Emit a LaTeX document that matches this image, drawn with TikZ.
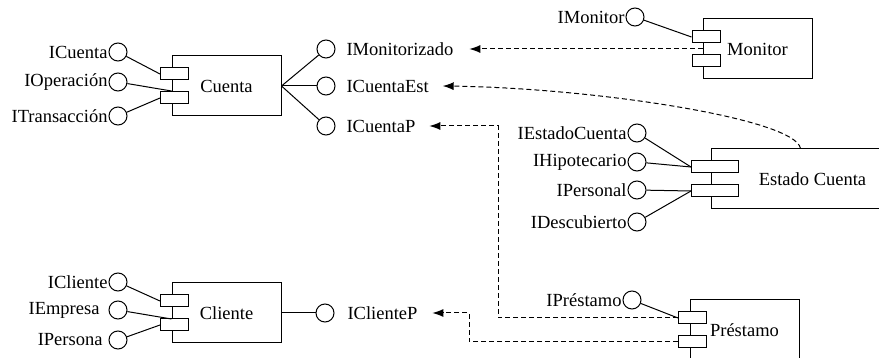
\documentclass[tikz,border=0pt]{standalone}
\usepackage{fontspec}
\setmainfont{Liberation Serif}
\usepackage{tikz}
\usetikzlibrary{arrows.meta}
\usetikzlibrary{positioning}
\tikzstyle{iface}=[draw,circle,minimum size=18pt,inner sep=0pt]
\tikzstyle{lbl}=[inner sep=0.5pt]

\begin{document}
\begin{tikzpicture}[
  x=1pt,y=-1pt,
  line width=1pt,
  font=\fontsize{18.5}{22}\selectfont,
  comp/.style={draw,rectangle,minimum width=109pt,minimum height=60pt,inner sep=0},
  port/.style={draw,fill=white,minimum width=28pt,minimum height=12pt,inner sep=0},
  wide port/.style={port,minimum width=47pt},
  dep/.style={dash pattern=on 5pt off 3pt,-{Latex[length=11pt,width=8pt]}},
]
\useasboundingbox (0,0) rectangle (879,358);

% components
\node[comp] (cu) at (226.5,86) {Cuenta};
\node[port] (cu1) at ([xshift=3pt,yshift=12pt]cu.west) {};
\node[port] (cu2) at ([xshift=3pt,yshift=-12pt]cu.west) {};

\node[comp] (mo) at (757.5,49) {Monitor};
\node[port] (mo1) at ([xshift=3.5pt,yshift=12pt]mo.west) {};
\node[port] (mo2) at ([xshift=3.5pt,yshift=-12pt]mo.west) {};

\node[comp,minimum width=203pt] (ec) at (812.5,179) {Estado Cuenta};
\node[wide port] (ec1) at ([xshift=4.5pt,yshift=12pt]ec.west) {};
\node[wide port] (ec2) at ([xshift=4.5pt,yshift=-12pt]ec.west) {};

\node[comp] (cl) at (226.5,313) {Cliente};
\node[port] (cl1) at ([xshift=3pt,yshift=12pt]cl.west) {};
\node[port] (cl2) at ([xshift=3pt,yshift=-12pt]cl.west) {};

\node[comp] (pr) at (744.5,330) {Préstamo};
\node[port] (pr1) at ([xshift=3pt,yshift=12pt]pr.west) {};
\node[port] (pr2) at ([xshift=3pt,yshift=-12pt]pr.west) {};

% interfaces of Cuenta
\node[iface] (icu) at (118,52) {};
\node[iface] (iop) at (118,82) {};
\node[iface] (itr) at (118,116) {};
\node[lbl,left=0pt of icu] {ICuenta};
\node[lbl,left=0pt of iop] {IOperación};
\node[lbl,left=0pt of itr] {ITransacción};
\draw (icu) -- (cu1.west);
\draw (iop) -- ([yshift=-5pt]cu.west);
\draw (itr) -- (cu2.west);

\node[iface] (imz) at (326,49) {};
\node[iface] (ice) at (326,86) {};
\node[iface] (icp) at (326,126) {};
\node[lbl,right=10pt of imz] (limz) {IMonitorizado};
\node[lbl,right=10pt of ice] (lice) {ICuentaEst};
\node[lbl,right=10pt of icp] (licp) {ICuentaP};
\draw (cu.east) -- (imz);
\draw (cu.east) -- (ice);
\draw (cu.east) -- (icp);

% Monitor
\node[iface] (imo) at (635,17) {};
\node[lbl,left=0pt of imo] {IMonitor};
\draw (imo) -- (mo1.west);

% Estado Cuenta
\node[iface] (iec) at (637,133) {};
\node[iface] (ihi) at (637,162) {};
\node[iface] (ipe) at (637,190) {};
\node[iface] (ide) at (637,222) {};
\node[lbl,left=0pt of iec] {IEstadoCuenta};
\node[lbl,left=0pt of ihi] {IHipotecario};
\node[lbl,left=0pt of ipe] {IPersonal};
\node[lbl,left=0pt of ide] {IDescubierto};
\draw (iec) -- (ec1.west);
\draw (ihi) -- (ec1.west);
\draw (ipe) -- (ec2.west);
\draw (ide) -- (ec2.west);

% Cliente
\node[iface] (icl) at (118,282) {};
\node[iface] (iem) at (118,310) {};
\node[iface] (ips) at (118,340) {};
\node[lbl,left=0pt of icl] {ICliente};
\node[lbl,left=8pt of iem] {IEmpresa};
\node[lbl,left=5pt of ips] {IPersona};
\draw (icl) -- (cl1.west);
\draw (iem) -- ([yshift=-6pt]cl.west);
\draw (ips) -- (cl2.west);

\node[iface] (iclp) at (325,313) {};
\node[lbl,right=12pt of iclp] (liclp) {IClienteP};
\draw (cl.east) -- (iclp);

% Prestamo
\node[iface] (ipr) at (632,300) {};
\node[lbl,left=0pt of ipr] {IPréstamo};
\draw (ipr) -- (pr1.west);

% dependencies
\draw[dep] (mo.west) -- ([xshift=15pt]limz.east);
\draw[dep] ([xshift=-12pt]ec.north) .. controls +(-5,-30) and +(150,2) .. ([xshift=13pt]lice.east);
\draw[dep] (pr1.west) -- ++(-180,0) |- ([xshift=13pt]licp.east);
\draw[dep] (pr2.west) -- ++(-209,0) |- ([xshift=14pt]liclp.east);
%\draw[dep] (pr2.west) -| (iclp);
\end{tikzpicture}
\end{document}
